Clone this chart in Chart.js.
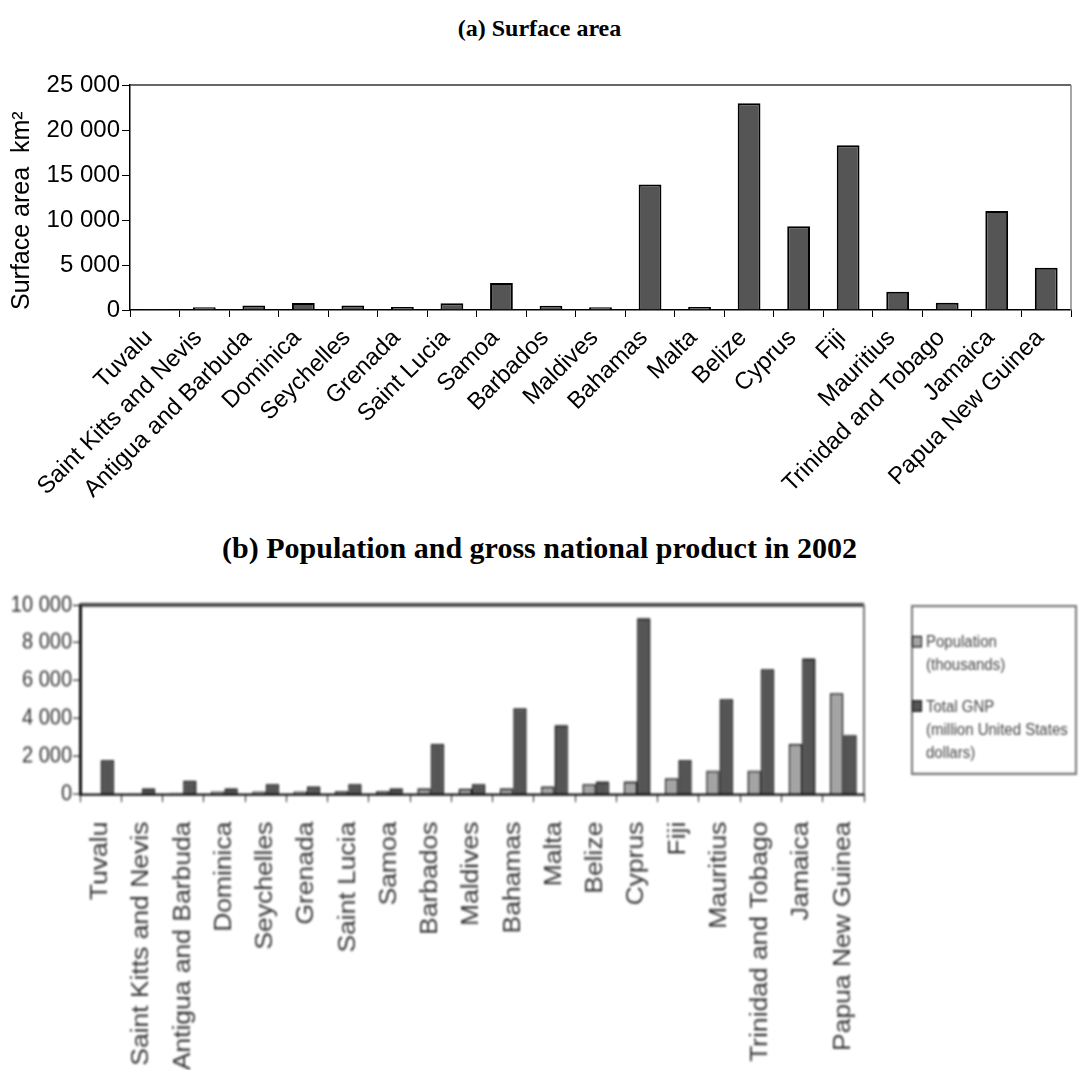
<!DOCTYPE html>
<html>
<head>
<meta charset="utf-8">
<script src="https://cdn.jsdelivr.net/npm/chart.js@4.4.1/dist/chart.umd.min.js"></script>
<style>
  html, body { margin: 0; padding: 0; background: #fff; width: 1079px; height: 1070px; overflow: hidden; }
  .title { position: absolute; left: 0; width: 1079px; text-align: center;
           font-family: "Liberation Serif", "Times New Roman", serif; font-weight: bold; color: #000; }
  #titleA { top: 14px; font-size: 24px; line-height: 28px; }
  #titleB { top: 531px; font-size: 30px; line-height: 34px; }
  #wrapA { position: absolute; left: 0; top: 0; width: 1079px; height: 520px; }
  #wrapB { position: absolute; left: 0; top: 560px; width: 1079px; height: 444px;
           transform: scaleY(1.15); transform-origin: 0 0; filter: blur(0.85px); }
  #legendB { position: absolute; left: 911px; top: 39px; width: 166px; height: 148px;
             border: 2px solid #777; box-sizing: border-box; padding-top: 20px;
             font: 15px "Liberation Sans", Arial, sans-serif; color: #444; }
  .item { display: flex; align-items: flex-start; margin-bottom: 16px; }
  .swatch { width: 8px; height: 8px; border: 1.5px solid #111; margin: 5px 4px 0 -1px; flex: none; }
  .lines div { line-height: 20px; white-space: nowrap; }
</style>
</head>
<body>
<div class="title" id="titleA">(a) Surface area</div>
<div id="wrapA"><canvas id="chartA" width="1079" height="520"></canvas></div>
<div class="title" id="titleB">(b) Population and gross national product in 2002</div>
<div id="wrapB">
  <canvas id="chartB" width="1079" height="444"></canvas>
  <div id="legendB"></div>
</div>
<script>
// Small island states, ordered as on both panels
const countries = ["Tuvalu", "Saint Kitts and Nevis", "Antigua and Barbuda", "Dominica", "Seychelles",
  "Grenada", "Saint Lucia", "Samoa", "Barbados", "Maldives", "Bahamas", "Malta", "Belize",
  "Cyprus", "Fiji", "Mauritius", "Trinidad and Tobago", "Jamaica", "Papua New Guinea"];

// Panel (a): surface area, km²
const surfaceArea = [26, 300, 500, 780, 500, 340, 750, 3000, 480, 300, 13940, 320, 22970,
  9300, 18300, 2040, 800, 11000, 4700];

// Panel (b): population (thousands) and total GNP (million US$), 2002
const population = [10, 40, 60, 140, 140, 140, 150, 150, 300, 280, 300, 400, 530,
  670, 830, 1230, 1230, 2650, 5330];
const gnp = [1800, 300, 700, 300, 530, 400, 530, 300, 2650, 530, 4530, 3650, 670,
  9300, 1800, 5010, 6600, 7180, 3120];

const seriesNamesB = [["Population", "(thousands)"], ["Total GNP", "(million United States", "dollars)"]];
const surfaceTitle = "Surface area  km\u00b2";

const areaTicks = { min: 0, max: 25000, step: 5000 };
const econTicks = { min: 0, max: 10000, step: 2000 };

// thousands separated by a space: 25 000
const spaced = v => String(v).replace(/\B(?=(\d{3})+(?!\d))/g, " ");

// outline around the plot area, each side with its own pen
const plotFrame = {
  id: "plotFrame",
  afterDraw(chart, args, opts) {
    const { ctx, chartArea: a } = chart;
    const side = (s, x1, y1, x2, y2) => {
      if (!s) return;
      ctx.beginPath();
      ctx.strokeStyle = s.color;
      ctx.lineWidth = s.width;
      ctx.moveTo(x1, y1); ctx.lineTo(x2, y2);
      ctx.stroke();
    };
    ctx.save();
    side(opts.top, a.left, a.top, a.right, a.top);
    side(opts.right, a.right, a.top, a.right, a.bottom);
    side(opts.left, a.left, a.top, a.left, a.bottom);
    side(opts.bottom, a.left, a.bottom, a.right, a.bottom);
    ctx.restore();
  }
};

const sans = "'Liberation Sans', Arial, sans-serif";

new Chart(document.getElementById("chartA"), {
  type: "bar",
  data: {
    labels: countries,
    datasets: [{
      label: surfaceTitle,
      data: surfaceArea,
      backgroundColor: "#555555",
      borderColor: "#000",
      borderWidth: 2,
      barPercentage: 0.46,
      categoryPercentage: 1
    }]
  },
  options: {
    responsive: false,
    animation: false,
    layout: { padding: { top: 85, right: 8, left: 0, bottom: 0 } },
    plugins: {
      legend: { display: false },
      tooltip: { enabled: false },
      plotFrame: { top: { color: "#333", width: 1.5 }, right: { color: "#888", width: 1.5 } }
    },
    scales: {
      x: {
        grid: { drawOnChartArea: false, color: "#000", tickLength: 7, offset: true },
        border: { color: "#000", width: 1.5 },
        ticks: { autoSkip: false, minRotation: 45, maxRotation: 45, color: "#000",
                 font: { family: sans, size: 24 }, padding: 7, labelOffset: -6 },
        afterFit: s => { s.height = 210; }
      },
      y: {
        min: areaTicks.min, max: areaTicks.max,
        grid: { drawOnChartArea: false, color: "#000", tickLength: 8 },
        border: { color: "#000", width: 1.5 },
        ticks: { stepSize: areaTicks.step, color: "#000", font: { family: sans, size: 24 },
                 padding: 2, callback: v => spaced(v) },
        title: { display: true, text: surfaceTitle, color: "#000", align: "start",
                 font: { family: sans, size: 25 }, padding: { top: 7, bottom: 0 } },
        afterFit: s => { s.width = 130; }
      }
    }
  },
  plugins: [plotFrame]
});

const chartB = new Chart(document.getElementById("chartB"), {
  type: "bar",
  data: {
    labels: countries,
    datasets: [
      { label: seriesNamesB[0].join(" "), data: population, backgroundColor: "#a4a4a4",
        borderColor: "#111", borderWidth: 1.5, barPercentage: 1, categoryPercentage: 0.65 },
      { label: seriesNamesB[1].join(" "), data: gnp, backgroundColor: "#555555",
        borderColor: "#111", borderWidth: 1.5, barPercentage: 1, categoryPercentage: 0.65 }
    ]
  },
  options: {
    responsive: false,
    animation: false,
    layout: { padding: { top: 39, right: 215, left: 0, bottom: 0 } },
    plugins: {
      legend: { display: false },
      tooltip: { enabled: false },
      plotFrame: { top: { color: "#333", width: 3 }, right: { color: "#777", width: 2 } }
    },
    scales: {
      x: {
        grid: { drawOnChartArea: false, color: "#222", tickLength: 7, offset: true },
        border: { color: "#111", width: 2 },
        ticks: { autoSkip: false, minRotation: 90, maxRotation: 90, color: "#333",
                 font: { family: sans, size: 23 }, padding: 17 },
        afterFit: s => { s.height = 240.5; }
      },
      y: {
        min: econTicks.min, max: econTicks.max,
        grid: { drawOnChartArea: false, color: "#222", tickLength: 7 },
        border: { color: "#111", width: 3 },
        ticks: { stepSize: econTicks.step, color: "#333", font: { family: sans, size: 20 },
                 padding: 1, callback: v => spaced(v) },
        afterFit: s => { s.width = 80; }
      }
    }
  },
  plugins: [plotFrame]
});

// legend for panel (b), built from the chart's own datasets
const legend = document.getElementById("legendB");
chartB.data.datasets.forEach((ds, i) => {
  const item = document.createElement("div");
  item.className = "item";
  const sw = document.createElement("div");
  sw.className = "swatch";
  sw.style.background = ds.backgroundColor;
  const lines = document.createElement("div");
  lines.className = "lines";
  seriesNamesB[i].forEach(t => {
    const d = document.createElement("div");
    d.textContent = t;
    lines.appendChild(d);
  });
  item.appendChild(sw);
  item.appendChild(lines);
  legend.appendChild(item);
});
</script>
</body>
</html>
